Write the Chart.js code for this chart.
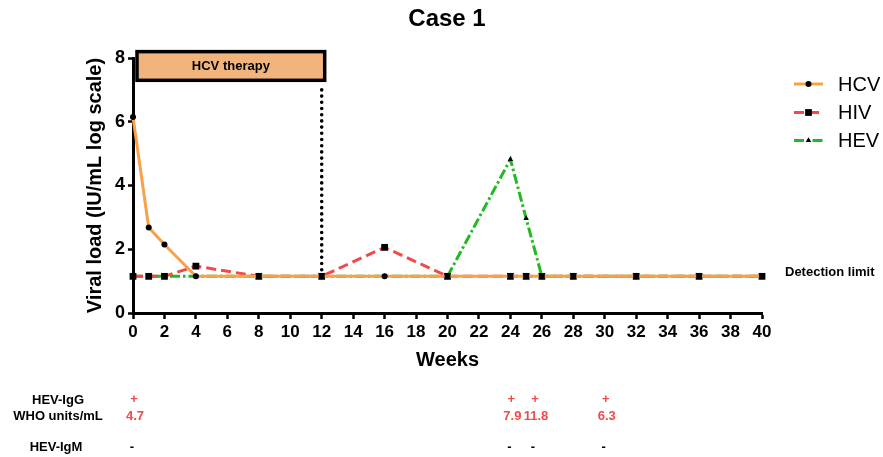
<!DOCTYPE html>
<html>
<head>
<meta charset="utf-8">
<script src="https://cdn.jsdelivr.net/npm/chart.js@4/dist/chart.umd.min.js"></script>
<style>
  html, body { margin: 0; padding: 0; background: #fff; }
  #wrap { width: 883px; height: 457px; }
</style>
</head>
<body>
<div id="wrap"><canvas id="c" width="883" height="457"></canvas></div>
<script>
// Sampling weeks and viral loads (log10 IU/mL)
const weeks   = [0, 1, 2, 4, 8, 12, 16, 20, 24, 25, 26, 28, 32, 36, 40];
const hcvLoad = [6.15, 2.68, 2.15, 1.15, 1.15, 1.15, 1.15, 1.15, 1.15, 1.15, 1.15, 1.15, 1.15, 1.15, 1.15];
const hivLoad = [1.15, 1.15, 1.15, 1.47, 1.15, 1.15, 2.06, 1.15, 1.15, 1.15, 1.15, 1.15, 1.15, 1.15, 1.15];
const hevLoad = [1.15, 1.15, 1.15, 1.15, 1.15, 1.15, 1.15, 1.15, 4.82, 2.97, 1.15, 1.15, 1.15, 1.15, 1.15];
const detectionLimit = 1.15;

// Axis ranges
const yRange = [0, 8];
const xRange = [0, 40];

// HCV treatment window (weeks)
const therapyWeeks = [0, 12];

// HEV serology under the time axis
const serologyWeeks = [0, 24, 25.5, 30];
const hevIgG        = ['+', '+', '+', '+'];
const hevIgGTiter   = ['4.7', '7.9', '11.8', '6.3'];
const hevIgM        = ['-', '-', '-', '-'];

const toXY = vals => weeks.map((w, i) => ({ x: w, y: vals[i] }));

const BOLD = '"Liberation Sans", Arial, sans-serif';
const NARROW = '"Liberation Sans Narrow", "Liberation Sans", Arial, sans-serif';
const RED_TXT = '#f04a4a';

function drawPointShape(ctx, style, x, y, r) {
  ctx.beginPath();
  if (style === 'circle') {
    ctx.arc(x, y, r, 0, Math.PI * 2);
  } else if (style === 'rect') {
    const s = r / Math.SQRT2;
    ctx.rect(x - s, y - s, 2 * s, 2 * s);
  } else if (style === 'triangle') {
    ctx.moveTo(x, y - r);
    ctx.lineTo(x + r * 0.87, y + r * 0.5);
    ctx.lineTo(x - r * 0.87, y + r * 0.5);
    ctx.closePath();
  }
  ctx.fillStyle = '#000';
  ctx.fill();
}

const decorations = {
  id: 'decorations',
  afterDraw(chart) {
    const { ctx, scales: { x, y } } = chart;
    ctx.save();

    // Title
    ctx.fillStyle = '#000';
    ctx.font = 'bold 24px ' + BOLD;
    ctx.textAlign = 'center';
    ctx.textBaseline = 'middle';
    ctx.fillText('Case 1', 447, 19);

    // HCV therapy bar
    const bx0 = x.getPixelForValue(therapyWeeks[0]) + 4;
    const bx1 = x.getPixelForValue(therapyWeeks[1]) + 3;
    const by0 = y.getPixelForValue(8.2);
    const by1 = y.getPixelForValue(7.3);
    ctx.fillStyle = '#f2b47d';
    ctx.fillRect(bx0, by0, bx1 - bx0, by1 - by0);
    ctx.lineWidth = 3.5;
    ctx.strokeStyle = '#000';
    ctx.strokeRect(bx0, by0, bx1 - bx0, by1 - by0);
    ctx.fillStyle = '#000';
    ctx.font = 'bold 13px ' + BOLD;
    ctx.fillText('HCV therapy', (bx0 + bx1) / 2, (by0 + by1) / 2);

    // End of therapy marker
    const ex = x.getPixelForValue(therapyWeeks[1]);
    ctx.beginPath();
    ctx.setLineDash([0, 6.2]);
    ctx.lineCap = 'round';
    ctx.lineWidth = 3.6;
    ctx.moveTo(ex, y.getPixelForValue(7.0));
    ctx.lineTo(ex, y.getPixelForValue(detectionLimit) - 5);
    ctx.stroke();
    ctx.setLineDash([]);
    ctx.lineCap = 'butt';

    // Detection limit label
    ctx.textAlign = 'left';
    ctx.font = 'bold 13px ' + BOLD;
    ctx.fillText('Detection limit', 785, y.getPixelForValue(detectionLimit) - 4);

    // Legend
    const legendY = [84, 112.5, 140.5];
    chart.data.datasets.forEach((ds, i) => {
      const ly = legendY[i];
      ctx.beginPath();
      ctx.strokeStyle = ds.borderColor;
      ctx.lineWidth = 3;
      ctx.setLineDash(ds.borderDash || []);
      ctx.moveTo(794, ly);
      ctx.lineTo(823, ly);
      ctx.stroke();
      ctx.setLineDash([]);
      drawPointShape(ctx, ds.pointStyle, 808.5, ly, ds.pointRadius);
      ctx.fillStyle = '#000';
      ctx.font = '20px ' + BOLD;
      ctx.textAlign = 'left';
      ctx.textBaseline = 'middle';
      ctx.fillText(ds.label, 838, ly + 1);
    });

    // Serology rows
    ctx.textAlign = 'center';
    ctx.font = 'bold 13px ' + BOLD;
    ctx.fillStyle = '#000';
    ctx.fillText('HEV-IgG', 58, 400);
    ctx.fillText('WHO units/mL', 58, 416);
    ctx.fillText('HEV-IgM', 56, 447);
    serologyWeeks.forEach((w, i) => {
      const px = x.getPixelForValue(w);
      ctx.fillStyle = RED_TXT;
      ctx.fillText(hevIgG[i], px + 1, 399);
      ctx.fillText(hevIgGTiter[i], px + 2, 416);
      ctx.fillStyle = '#000';
      ctx.fillText(hevIgM[i], px - 1, 447);
    });

    ctx.restore();
  }
};

const chart = new Chart(document.getElementById('c'), {
  type: 'line',
  data: {
    datasets: [
      {
        label: 'HCV', data: toXY(hcvLoad),
        borderColor: '#f7a24a', borderWidth: 3,
        pointStyle: 'circle', pointRadius: 3,
        pointBackgroundColor: '#000', pointBorderWidth: 0,
        clip: false
      },
      {
        label: 'HIV', data: toXY(hivLoad),
        borderColor: '#f24a4a', borderWidth: 3, borderDash: [10, 5],
        pointStyle: 'rect', pointRadius: 4.8,
        pointBackgroundColor: '#000', pointBorderWidth: 0,
        clip: false
      },
      {
        label: 'HEV', data: toXY(hevLoad),
        borderColor: '#22b922', borderWidth: 3, borderDash: [10, 3, 2.5, 3],
        pointStyle: 'triangle', pointRadius: 3.2,
        pointBackgroundColor: '#000', pointBorderWidth: 0,
        clip: false
      }
    ]
  },
  options: {
    responsive: false,
    animation: false,
    devicePixelRatio: 1,
    layout: { padding: { top: 58, right: 121, bottom: 84, left: 0 } },
    plugins: { legend: { display: false }, title: { display: false }, tooltip: { enabled: false } },
    elements: { line: { tension: 0 } },
    scales: {
      x: {
        type: 'linear', min: xRange[0], max: xRange[1],
        afterFit(scale) { scale.height = 60; },
        border: { display: true, color: '#000', width: 3 },
        grid: { drawOnChartArea: false, drawTicks: true, tickLength: 6, tickWidth: 2.5, tickColor: '#000' },
        ticks: { stepSize: 2, color: '#000', padding: 3, maxRotation: 0, autoSkip: false,
                 font: { family: NARROW, size: 17, weight: 'bold' } },
        title: { display: true, text: 'Weeks', color: '#000', padding: { top: 0, bottom: 1 },
                 font: { family: BOLD, size: 20, weight: 'bold' } }
      },
      y: {
        type: 'linear', min: yRange[0], max: yRange[1],
        afterFit(scale) { scale.width = 133; },
        border: { display: true, color: '#000', width: 3 },
        grid: { drawOnChartArea: false, drawTicks: true, tickLength: 5, tickWidth: 2.5, tickColor: '#000' },
        ticks: { stepSize: 2, color: '#000', padding: 3,
                 font: { family: NARROW, size: 18, weight: 'bold' } },
        title: { display: true, text: 'Viral load (IU/mL log scale)', color: '#000', padding: { top: 83, bottom: 0 },
                 font: { family: BOLD, size: 20, weight: 'bold' } }
      }
    }
  },
  plugins: [decorations]
});
</script>
</body>
</html>
